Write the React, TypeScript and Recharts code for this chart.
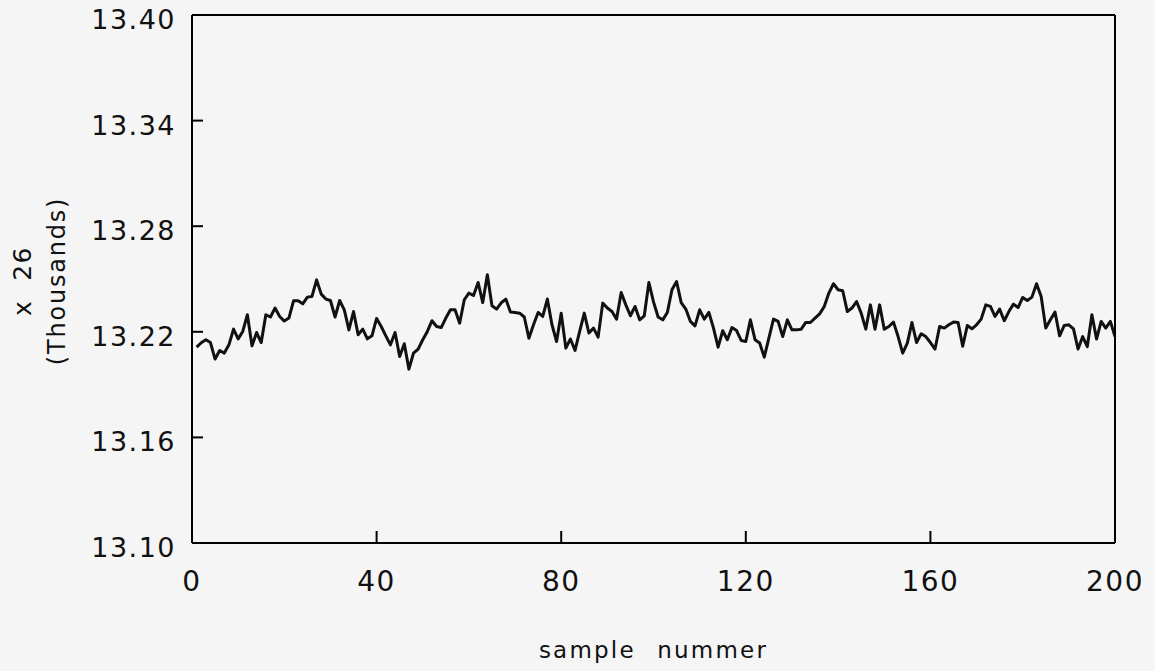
import React from 'react';
import { LineChart, Line, XAxis, YAxis } from 'recharts';

const xTicks = [0, 40, 80, 120, 160, 200];
const yTicks = [13.1, 13.16, 13.22, 13.28, 13.34, 13.4];
const xTitle = 'sample nummer';
const yTitleLine1 = 'x  26';
const yTitleLine2 = '(Thousands)';

const values = [
  13.2113, 13.2138, 13.2155, 13.2139, 13.2045, 13.2094, 13.2079, 13.2126, 13.2215, 13.2160,
  13.2202, 13.2297, 13.2120, 13.2196, 13.2139, 13.2297, 13.2284, 13.2335, 13.2287, 13.2261,
  13.2278, 13.2376, 13.2376, 13.2359, 13.2397, 13.2401, 13.2495, 13.2414, 13.2386, 13.2378,
  13.2284, 13.2378, 13.2325, 13.2211, 13.2315, 13.2183, 13.2215, 13.2160, 13.2177, 13.2276,
  13.2230, 13.2177, 13.2126, 13.2196, 13.2060, 13.2132, 13.1988, 13.2079, 13.2102, 13.2155,
  13.2202, 13.2263, 13.2230, 13.2224, 13.2278, 13.2325, 13.2325, 13.2249, 13.2382, 13.2420,
  13.2406, 13.2480, 13.2366, 13.2524, 13.2348, 13.2329, 13.2365, 13.2386, 13.2312, 13.2310,
  13.2306, 13.2284, 13.2164, 13.2240, 13.2310, 13.2287, 13.2386, 13.2240, 13.2145, 13.2306,
  13.2107, 13.2159, 13.2094, 13.2202, 13.2306, 13.2193, 13.2221, 13.2170, 13.2363, 13.2335,
  13.2315, 13.2272, 13.2423, 13.2353, 13.2291, 13.2344, 13.2268, 13.2291, 13.2480, 13.2370,
  13.2284, 13.2268, 13.2310, 13.2439, 13.2486, 13.2366, 13.2329, 13.2259, 13.2234, 13.2325,
  13.2272, 13.2310, 13.2221, 13.2113, 13.2206, 13.2155, 13.2224, 13.2207, 13.2151, 13.2145,
  13.2268, 13.2155, 13.2136, 13.2056, 13.2164, 13.2272, 13.2259, 13.2173, 13.2268, 13.2211,
  13.2211, 13.2215, 13.2253, 13.2253, 13.2278, 13.2302, 13.2344, 13.2420, 13.2473, 13.2439,
  13.2433, 13.2315, 13.2335, 13.2372, 13.2306, 13.2215, 13.2353, 13.2215, 13.2353, 13.2215,
  13.2230, 13.2255, 13.2173, 13.2079, 13.2136, 13.2253, 13.2139, 13.2189, 13.2173, 13.2139,
  13.2102, 13.2230, 13.2221, 13.2240, 13.2255, 13.2253, 13.2118, 13.2236, 13.2217, 13.2240,
  13.2272, 13.2353, 13.2344, 13.2287, 13.2329, 13.2263, 13.2315, 13.2357, 13.2338, 13.2395,
  13.2378, 13.2397, 13.2473, 13.2401, 13.2221, 13.2268, 13.2312, 13.2177, 13.2236, 13.2240,
  13.2217, 13.2102, 13.2173, 13.2116, 13.2297, 13.2159, 13.2259, 13.2221, 13.2259, 13.2173,
];

const data = values.map((v, i) => ({ sample: i + 1, value: v }));

const FONT = '"DejaVu Sans", "Liberation Sans", sans-serif';

const XTick = (props: any) => {
  const { x, y, payload, index } = props;
  const isEdge = index === 0 || index === xTicks.length - 1;
  return (
    <g>
      {!isEdge && <line x1={x} y1={y} x2={x} y2={y - 12} stroke="#000" strokeWidth={2} />}
      <text
        x={x}
        y={y + 48}
        textAnchor="middle"
        fontFamily={FONT}
        fontSize={28}
        letterSpacing={1.5}
        fill="#111"
      >
        {payload.value}
      </text>
    </g>
  );
};

const YTick = (props: any) => {
  const { x, y, payload, index } = props;
  const isEdge = index === 0 || index === yTicks.length - 1;
  return (
    <g>
      {!isEdge && <line x1={x} y1={y} x2={x + 11} y2={y} stroke="#000" strokeWidth={2} />}
      <text
        x={x - 16}
        y={y + 14}
        textAnchor="end"
        fontFamily={FONT}
        fontSize={27}
        letterSpacing={1.5}
        fill="#111"
      >
        {Number(payload.value).toFixed(2)}
      </text>
    </g>
  );
};

const YTitle = (props: any) => {
  const vb = props.viewBox || { x: 0, y: 0, width: 0, height: 0 };
  const cy = 281;
  const x1 = vb.x + 22;
  const x2 = vb.x + 57;
  return (
    <g>
      <text
        x={x1}
        y={cy}
        transform={`rotate(-90, ${x1}, ${cy})`}
        textAnchor="middle"
        dominantBaseline="central"
        fontFamily={FONT}
        fontSize={25}
        letterSpacing={1.5}
        fill="#111"
        style={{ whiteSpace: 'pre' }}
      >
        {yTitleLine1}
      </text>
      <text
        x={x2}
        y={cy}
        transform={`rotate(-90, ${x2}, ${cy})`}
        textAnchor="middle"
        dominantBaseline="central"
        fontFamily={FONT}
        fontSize={24}
        letterSpacing={1.8}
        fill="#111"
      >
        {yTitleLine2}
      </text>
    </g>
  );
};

const XTitle = (props: any) => {
  const vb = props.viewBox || { x: 0, y: 0, width: 0, height: 0 };
  return (
    <text
      x={vb.x + vb.width / 2}
      y={vb.y + 115}
      textAnchor="middle"
      fontFamily={FONT}
      fontSize={23}
      letterSpacing={2.2}
      wordSpacing={12}
      fill="#111"
    >
      {xTitle}
    </text>
  );
};

export default function App() {
  return (
    <div
      style={{
        position: 'absolute',
        left: 0,
        top: 0,
        width: 1155,
        height: 671,
        background: '#f5f5f5',
      }}
    >
      <LineChart
        width={1155}
        height={671}
        data={data}
        margin={{ top: 14, right: 39, bottom: 68, left: 0 }}
      >
        <XAxis
          dataKey="sample"
          type="number"
          domain={[0, 200]}
          ticks={xTicks}
          allowDataOverflow
          height={60}
          axisLine={{ stroke: '#000', strokeWidth: 2 }}
          tickLine={false}
          tickSize={0}
          tickMargin={0}
          tick={<XTick />}
          interval={0}
          label={{ content: <XTitle /> }}
        />
        <XAxis
          xAxisId="top"
          orientation="top"
          dataKey="sample"
          type="number"
          domain={[0, 200]}
          height={1}
          tick={false}
          tickLine={false}
          axisLine={{ stroke: '#000', strokeWidth: 2 }}
        />
        <YAxis
          type="number"
          domain={[13.1, 13.4]}
          ticks={yTicks}
          allowDataOverflow
          width={192}
          axisLine={{ stroke: '#000', strokeWidth: 2 }}
          tickLine={false}
          tickSize={0}
          tickMargin={0}
          interval={0}
          tick={<YTick />}
          label={{ content: <YTitle /> }}
        />
        <YAxis
          yAxisId="right"
          orientation="right"
          type="number"
          domain={[13.1, 13.4]}
          width={1}
          tick={false}
          tickLine={false}
          axisLine={{ stroke: '#000', strokeWidth: 2 }}
        />
        <Line
          type="linear"
          dataKey="value"
          stroke="#111"
          strokeWidth={3}
          dot={false}
          isAnimationActive={false}
          strokeLinejoin="round"
        />
      </LineChart>
    </div>
  );
}
